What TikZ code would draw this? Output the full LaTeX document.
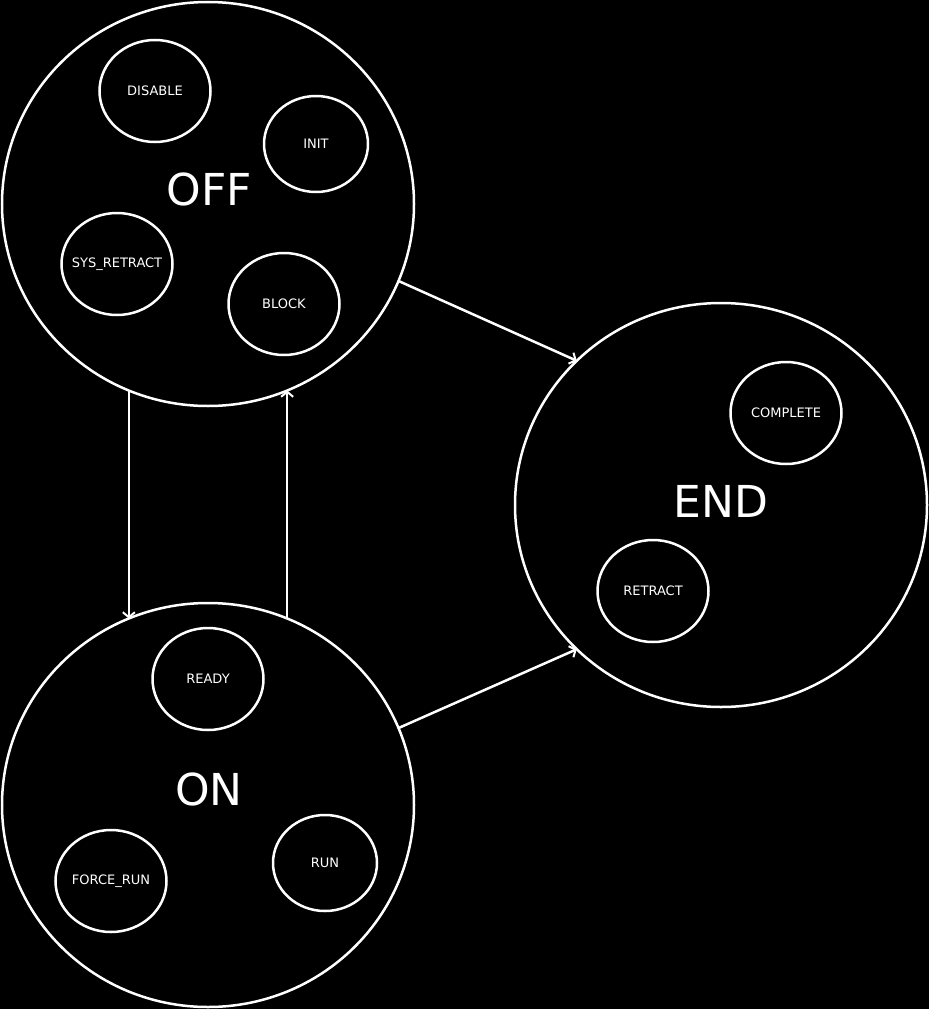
\documentclass[tikz,border=0pt]{standalone}
\usepackage{fontspec}
\setmainfont{DejaVu Sans}
\usetikzlibrary{shapes.geometric,arrows.meta}
\begin{document}
\begin{tikzpicture}[x=1pt,y=-1pt,
  bigstate/.style={draw=white,line width=2.5pt,ellipse,inner sep=0pt,outer sep=0pt,minimum width=412pt,minimum height=404pt},
  substate/.style={draw=white,line width=2.5pt,ellipse,inner sep=-12pt,outer sep=0pt,minimum width=111pt,minimum height=102pt,text=white,font=\fontsize{13}{15}\selectfont},
  substatesm/.style={substate,minimum width=104pt,minimum height=96pt},
  biglabel/.style={text=white,font=\fontsize{44}{50}\selectfont,inner sep=0pt},
  trans/.style={draw=white,line width=2.5pt,-{Straight Barb[length=5pt,width=12pt,line width=2pt]}}
]
\fill[black] (0,0) rectangle (929,1009);
\useasboundingbox (0,0) rectangle (929,1009);
% big states
\node[bigstate] (off) at (208,204) {};
\node[bigstate] (endst) at (721,505) {};
\node[bigstate] (on) at (208,805) {};
\node[biglabel] (offl) at (209,189) {OFF};
\node[biglabel] (endl) at (721,501) {END};
\node[biglabel] (onl) at (209,789) {ON};
% sub states
\node[substate] (disable) at (155,91) {DISABLE};
\node[substatesm] (init) at (316,144) {INIT};
\node[substate] (sysr) at (117,264) {SYS\_RETRACT};
\node[substate] (block) at (284,304) {BLOCK};
\node[substate] (complete) at (786,413) {COMPLETE};
\node[substate] (retract) at (653,591) {RETRACT};
\node[substate] (ready) at (208,679) {READY};
\node[substate] (force) at (111,881) {FORCE\_RUN};
\node[substatesm] (run) at (325,863) {RUN};
% transitions
\draw[trans] (off.-22.5) -- (endst.135.3);
\draw[trans] (on.22.2) -- (endst.-135.3);
\draw[trans] (off.-113.6) -- (on.113.8);
\draw[trans] (on.67.2) -- (off.-67);
\end{tikzpicture}
\end{document}
